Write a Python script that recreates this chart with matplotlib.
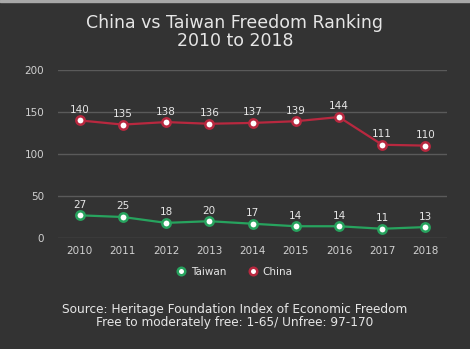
import matplotlib
matplotlib.use("Agg")
import matplotlib.pyplot as plt
from matplotlib.patches import Rectangle

years = [2010, 2011, 2012, 2013, 2014, 2015, 2016, 2017, 2018]
taiwan = [27, 25, 18, 20, 17, 14, 14, 11, 13]
china = [140, 135, 138, 136, 137, 139, 144, 111, 110]

BG = "#333333"
GREEN = "#27a35e"
RED = "#b8283f"
TEXT = "#e6e6e6"
TICK = "#d0d0d0"

plt.rcParams["font.family"] = ["DejaVu Sans"]

fig = plt.figure(figsize=(4.7, 3.49), dpi=100, facecolor=BG)
ax = fig.add_axes([58 / 470, 1 - 238 / 349, (447 - 58) / 470, 168 / 349])
ax.set_facecolor(BG)

# thin light strip along the top edge
fig.patches.append(Rectangle((0, 1 - 2 / 349), 1, 2 / 349, transform=fig.transFigure,
                             color="#a8a8a8", zorder=0))

x = list(range(len(years)))
for values, color, label in ((taiwan, GREEN, "Taiwan"), (china, RED, "China")):
    ax.plot(x, values, color=color, lw=1.6, marker="o", ms=6, mfc="white",
            mec=color, mew=1.8, label=label, zorder=3)
    for xi, v in zip(x, values):
        ax.annotate(str(v), (xi, v), xytext=(0, 4), textcoords="offset points",
                    ha="center", va="bottom", fontsize=7.5, color=TEXT)

ax.set_xlim(-0.5, len(years) - 0.5)
ax.set_ylim(0, 200)
ax.set_yticks([0, 50, 100, 150, 200])
ax.set_xticks(x)
ax.set_xticklabels([str(y) for y in years])
ax.grid(axis="y", color="#5a5a5a", lw=1)
ax.set_axisbelow(True)
for spine in ax.spines.values():
    spine.set_visible(False)
ax.tick_params(colors=TICK, labelsize=7.5, length=0, pad=6)
ax.tick_params(axis="y", pad=10)

fig.text(0.5, 1 - 23 / 349, "China vs Taiwan Freedom Ranking", ha="center", va="center",
         fontsize=12.5, color=TEXT)
fig.text(0.5, 1 - 41 / 349, "2010 to 2018", ha="center", va="center",
         fontsize=12.5, color=TEXT)

fig.legend(loc="center", bbox_to_anchor=(0.5, 1 - 272 / 349), ncol=2, frameon=False,
           fontsize=7.5, labelcolor=TEXT, handlelength=0.8, handletextpad=0.5,
           columnspacing=2.2, markerscale=0.9)
for line in fig.legends[0].get_lines():
    line.set_linestyle("none")

fig.text(0.5, 1 - 310 / 349, "Source: Heritage Foundation Index of Economic Freedom",
         ha="center", va="center", fontsize=8.7, color=TEXT)
fig.text(0.5, 1 - 322.5 / 349, "Free to moderately free: 1-65/ Unfree: 97-170",
         ha="center", va="center", fontsize=8.7, color=TEXT)

fig.savefig("out.png", dpi=100, facecolor=BG)
